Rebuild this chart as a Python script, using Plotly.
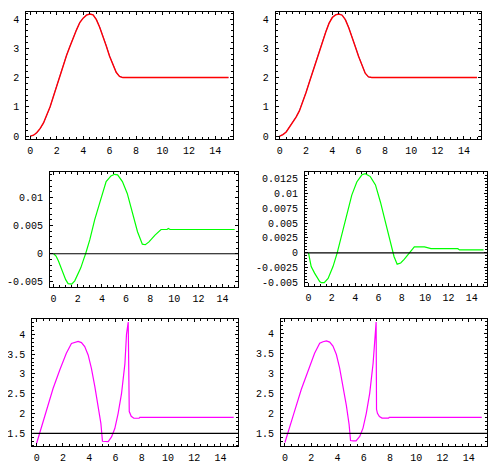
import plotly.graph_objects as go

# ---------------- data ----------------
# Panel 1 (top-left): reference (blue) and actual (red) trajectory
p1_t = [0, 0.25, 0.5, 0.75, 1.0, 1.25, 1.5, 1.75, 2.0, 2.25, 2.5, 2.75, 3.0, 3.25, 3.5,
        3.75, 4.0, 4.25, 4.5, 4.75, 5.0, 5.25, 5.5, 5.75, 6.0, 6.25, 6.5, 6.75, 7.0, 15]
p1_ref = [0, 0.03, 0.11, 0.25, 0.44, 0.69, 0.99, 1.36, 1.73, 2.09, 2.44, 2.77, 3.07, 3.37, 3.64,
          3.89, 4.04, 4.14, 4.17, 4.15, 3.99, 3.73, 3.43, 3.09, 2.74, 2.43, 2.18, 2.04, 2.0, 2.0]
p1_act = [0, 0.03, 0.12, 0.26, 0.45, 0.70, 1.00, 1.35, 1.72, 2.08, 2.43, 2.76, 3.06, 3.36, 3.63,
          3.88, 4.03, 4.13, 4.17, 4.14, 3.98, 3.72, 3.42, 3.08, 2.73, 2.42, 2.18, 2.04, 2.0, 2.0]

# Panel 2 (top-right)
p2_t = p1_t
p2_ref = [0, 0.05, 0.15, 0.31, 0.48, 0.66, 0.87, 1.15, 1.49, 1.84, 2.19, 2.56, 2.93, 3.29, 3.56,
          3.86, 4.06, 4.15, 4.17, 4.14, 3.98, 3.71, 3.41, 3.06, 2.73, 2.41, 2.15, 2.02, 2.0, 2.0]
p2_act = [0, 0.05, 0.14, 0.30, 0.47, 0.65, 0.86, 1.14, 1.48, 1.83, 2.18, 2.55, 2.92, 3.28, 3.55,
          3.85, 4.05, 4.14, 4.17, 4.13, 3.97, 3.70, 3.40, 3.05, 2.72, 2.40, 2.15, 2.02, 2.0, 2.0]

# Panel 3 (middle-left): error
p3_t = [0, 0.2, 0.4, 0.6, 0.8, 1.0, 1.2, 1.5, 1.75, 2.0, 2.25, 2.5, 2.65, 3.0, 3.4, 3.8, 4.1,
        4.35, 4.75, 5.05, 5.3, 5.7, 6.1, 6.55, 6.95, 7.35, 7.6, 7.9, 8.4, 8.9, 9.4, 9.5, 9.65, 15]
p3_err = [0, -0.0004, -0.0013, -0.0025, -0.0036, -0.0046, -0.0053, -0.0054, -0.0048, -0.0037,
          -0.0025, -0.0009, 0, 0.0025, 0.006, 0.0089, 0.011, 0.0128, 0.0138, 0.0141, 0.014,
          0.0128, 0.0107, 0.0072, 0.0039, 0.0017, 0.0016, 0.0021, 0.0033, 0.0043, 0.0043,
          0.0045, 0.0043, 0.0043]

# Panel 4 (middle-right): error
p4_t = [0, 0.23, 0.52, 0.96, 1.1, 1.35, 1.68, 2.1, 2.46, 2.84, 3.28, 3.71, 4.14, 4.58, 4.87,
        5.3, 5.74, 6.17, 6.6, 7.04, 7.33, 7.6, 7.9, 8.2, 8.64, 9.07, 9.94, 10.2, 10.5, 12.8,
        12.95, 15]
p4_err = [0, -0.0023, -0.0034, -0.0048, -0.005, -0.005, -0.0043, -0.0023, 0, 0.0028, 0.0063,
          0.0097, 0.0119, 0.0131, 0.0133, 0.0128, 0.0114, 0.0085, 0.0051, 0.0017, -0.0006,
          -0.0019, -0.0017, -0.0011, 0, 0.001, 0.001, 0.0008, 0.0007, 0.0007, 0.0005, 0.0005]

# Panel 5 (bottom-left): control
p5_t = [0, 0.23, 0.74, 1.25, 1.76, 2.26, 2.65, 2.9, 3.16, 3.41, 3.66, 3.92, 4.17, 4.43, 4.68,
        4.89, 5.01, 5.19, 5.45, 5.7, 5.95, 6.2, 6.46, 6.72, 6.84, 6.97, 7.0, 7.05, 7.2, 7.4,
        7.8, 7.85, 15]
p5_u = [1.25, 1.5, 2.08, 2.63, 3.1, 3.52, 3.77, 3.8, 3.82, 3.79, 3.69, 3.48, 3.14, 2.68, 2.22,
        1.75, 1.3, 1.29, 1.29, 1.41, 1.62, 2.0, 2.5, 3.26, 4.0, 4.31, 2.1, 2.05, 1.93, 1.88,
        1.88, 1.9, 1.9]

# Panel 6 (bottom-right): control
p6_t = [0, 0.23, 0.74, 1.25, 1.76, 2.26, 2.65, 2.9, 3.16, 3.41, 3.66, 3.92, 4.17, 4.43, 4.68,
        4.89, 5.0, 5.2, 5.42, 5.7, 5.95, 6.2, 6.46, 6.72, 6.84, 6.95, 6.98, 7.05, 7.2, 7.4,
        7.9, 7.95, 15]
p6_u = [1.27, 1.5, 2.06, 2.6, 3.08, 3.5, 3.75, 3.79, 3.81, 3.78, 3.68, 3.47, 3.13, 2.66, 2.2,
        1.72, 1.32, 1.31, 1.31, 1.42, 1.63, 2.0, 2.5, 3.25, 3.95, 4.28, 2.1, 2.0, 1.92, 1.88,
        1.88, 1.9, 1.9]

# horizontal reference levels
err_level = 0
u_level = 1.5

# tick labels
x_ticks = [0, 2, 4, 6, 8, 10, 12, 14]
y1_ticks = [0, 1, 2, 3, 4]
y3_ticks = [-0.005, 0, 0.005, 0.01]
y3_text = ["-0.005", "0", "0.005", "0.01"]
y4_ticks = [-0.005, -0.0025, 0, 0.0025, 0.005, 0.0075, 0.01, 0.0125]
y4_text = ["-0.005", "-0.0025", "0", "0.0025", "0.005", "0.0075", "0.01", "0.0125"]
y5_ticks = [1.5, 2, 2.5, 3, 3.5, 4]
y5_text = ["1.5", "2", "2.5", "3", "3.5", "4"]

# ---------------- figure ----------------
RED, BLUE, GREEN, MAG = "#ff0000", "#0000ff", "#00ff00", "#ff00ff"
fig = go.Figure()

def line(x, y, color, ax, w=1.2):
    fig.add_trace(go.Scatter(x=x, y=y, mode="lines", line=dict(color=color, width=w),
                             xaxis="x" + ax, yaxis="y" + ax, showlegend=False,
                             hoverinfo="skip"))

line(p1_t, p1_ref, BLUE, "", 0.6)
line(p1_t, p1_act, RED, "", 1.4)
line(p2_t, p2_ref, BLUE, "2", 0.6)
line(p2_t, p2_act, RED, "2", 1.4)
line(p3_t, p3_err, GREEN, "3")
line(p4_t, p4_err, GREEN, "4")
line(p5_t, p5_u, MAG, "5")
line(p6_t, p6_u, MAG, "6")

font = dict(family="Liberation Mono, Courier New, monospace", size=10, color="black")

def xax(domain, rng, anchor):
    return dict(domain=domain, range=rng, anchor=anchor, tickmode="array", tickvals=x_ticks,
                ticktext=[str(v) for v in x_ticks], ticks="inside", ticklen=3,
                tickcolor="black", tickwidth=1, showline=True, linecolor="black",
                linewidth=1, mirror="allticks", showgrid=False, zeroline=False,
                tickfont=font, ticklabelstandoff=2, automargin=False,
                minor=dict(tickmode="linear", tick0=0, dtick=0.5, ticks="inside",
                           ticklen=2, tickcolor="black", showgrid=False))

def yax(domain, rng, anchor, vals, text, mdt):
    return dict(domain=domain, range=rng, anchor=anchor, tickmode="array", tickvals=vals,
                ticktext=text, ticks="inside", ticklen=3, tickcolor="black", tickwidth=1,
                showline=True, linecolor="black", linewidth=1, mirror="allticks",
                showgrid=False, zeroline=False, tickfont=font, ticklabelstandoff=4,
                automargin=False,
                minor=dict(tickmode="linear", tick0=0, dtick=mdt, ticks="inside",
                           ticklen=2, tickcolor="black", showgrid=False))

# the page body has an 8px margin, so the figure is offset by 8px
OFF = 8
W, H = 500 - OFF, 470 - OFF
def dx(a, b): return [(a - OFF) / W, (b - OFF) / W]
def dy(top, bot): return [(H - (bot - OFF)) / H, (H - (top - OFF)) / H]

y1_text = [str(v) for v in y1_ticks]
fig.update_layout(
    width=W, height=H, margin=dict(l=0, r=0, t=0, b=0, autoexpand=False),
    paper_bgcolor="white", plot_bgcolor="white", showlegend=False,
    xaxis=xax(dx(26.3, 232.5), [-0.3, 15.3], "y"),
    yaxis=yax(dy(11.7, 139), [-0.10, 4.25], "x", y1_ticks, y1_text, 0.2),
    xaxis2=xax(dx(275.7, 481), [-0.3, 15.3], "y2"),
    yaxis2=yax(dy(11.7, 139), [-0.10, 4.25], "x2", y1_ticks, y1_text, 0.2),
    xaxis3=xax(dx(50, 238.3), [-0.3, 15.3], "y3"),
    yaxis3=yax(dy(171.7, 287), [-0.0059, 0.01456], "x3", y3_ticks, y3_text, 0.001),
    xaxis4=xax(dx(305, 487), [-0.3, 15.3], "y4"),
    yaxis4=yax(dy(172.3, 285.7), [-0.00551, 0.01352], "x4", y4_ticks, y4_text, 0.0005),
    xaxis5=xax(dx(32.3, 238.3), [-0.33, 15.35], "y5"),
    yaxis5=yax(dy(319.3, 446.3), [1.172, 4.379], "x5", y5_ticks, y5_text, 0.1),
    xaxis6=xax(dx(281, 487), [-0.3, 15.4], "y6"),
    yaxis6=yax(dy(319.3, 446.3), [1.175, 4.35], "x6", y5_ticks, y5_text, 0.1),
)

for ax, lvl in [("3", err_level), ("4", err_level), ("5", u_level), ("6", u_level)]:
    fig.add_shape(type="line", xref="x" + ax + " domain", yref="y" + ax,
                  x0=0, x1=1, y0=lvl, y1=lvl, line=dict(color="black", width=1.2))

fig.write_html("out.html")
